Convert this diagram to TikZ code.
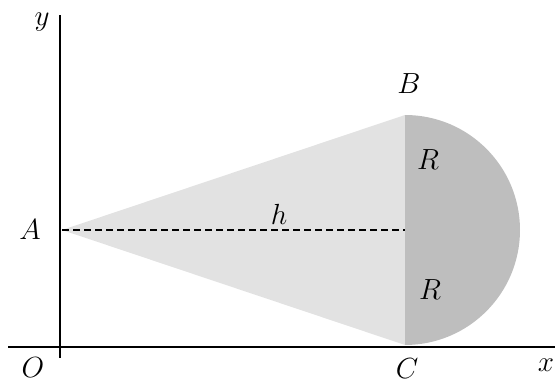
\documentclass[tikz,border=0pt]{standalone}
\usepackage{tikz}
\usetikzlibrary{calc}
\definecolor{ConeGray}{RGB}{226,226,226}
\definecolor{BallGray}{RGB}{190,190,190}
\tikzset{
  eixo/.style={line width=1.4pt, black},
  rotulo/.style={font=\Huge, scale=1.17, inner sep=0pt},
  altura/.style={dash pattern=on 7pt off 4pt, line width=1.1pt},
}

\begin{document}
\begin{tikzpicture}[x=1pt, y=1pt]
  \useasboundingbox (0,0) rectangle (555,385);

  % Pontos da figura
  \coordinate (O) at (60,38);
  \coordinate (A) at (62,155);
  \coordinate (B) at (405,270);
  \coordinate (C) at (405,40);
  \coordinate (M) at (405,155);

  % Cone (triângulo) e semicírculo
  \fill[ConeGray] (A) -- (B) -- (C) -- cycle;
  \fill[BallGray] (B) arc[start angle=90, end angle=-90, radius=115] -- cycle;

  % Altura h
  \draw[altura] (A) -- (M);

  % Eixos
  \coordinate (xini) at (8,38);
  \coordinate (xfim) at (555,38);
  \coordinate (yini) at (60,27);
  \coordinate (yfim) at (60,370);
  \draw[eixo] (xini) -- (xfim);
  \draw[eixo] (yini) -- (yfim);

  % Rótulos
  \node[rotulo] (ly) at (42,363) {$y$};
  \node[rotulo] (lx) at (546,20) {$x$};
  \node[rotulo] (lO) at (33,17) {$O$};
  \node[rotulo] (lA) at (30,155) {$A$};
  \node[rotulo] (lB) at (409,301) {$B$};
  \node[rotulo] (lC) at (407,16) {$C$};
  \node[rotulo] (lh) at (279,171) {$h$};
  \node[rotulo] (lR1) at (428,225) {$R$};
  \node[rotulo] (lR2) at (430,95) {$R$};
\end{tikzpicture}
\end{document}
